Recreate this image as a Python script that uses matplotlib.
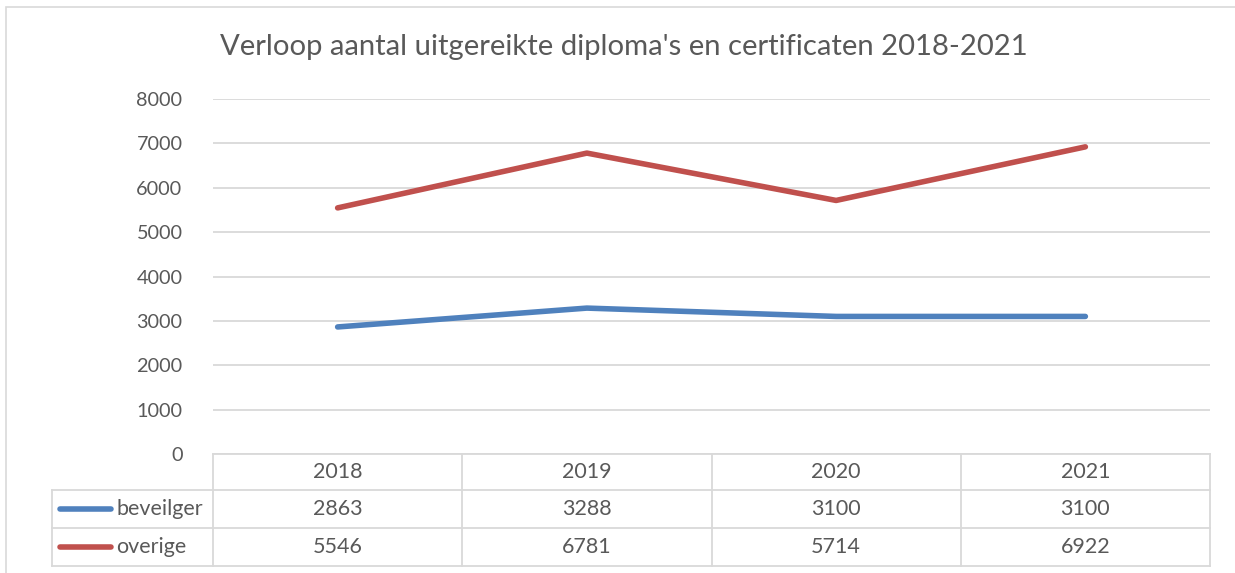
import matplotlib
matplotlib.use("Agg")
import matplotlib.pyplot as plt
from matplotlib.lines import Line2D
from matplotlib.patches import Rectangle

title = "Verloop aantal uitgereikte diploma's en certificaten 2018-2021"
years = ["2018", "2019", "2020", "2021"]
series_names = ["beveilger", "overige"]
beveilger = [2863, 3288, 3100, 3100]
overige = [5546, 6781, 5714, 6922]
yticks = [0, 1000, 2000, 3000, 4000, 5000, 6000, 7000, 8000]

colors = ["#4F81BD", "#C0504D"]
text_color = "#595959"
grid_color = "#D9D9D9"
font = ["Lato", "DejaVu Sans"]

W, H = 1235, 573
fig = plt.figure(figsize=(W / 100, H / 100), dpi=100)
plt.rcParams['font.family'] = font

def fx(px):
    return px / W

def fy(py):
    return 1 - py / H

# outer chart border
fig.patches.append(Rectangle((fx(6), fy(580)), fx(1240) - fx(6), fy(7) - fy(580),
                             transform=fig.transFigure, fill=False,
                             edgecolor=grid_color, linewidth=1.2))

left, right, top, bottom = 213, 1210, 99, 454
ax = fig.add_axes([fx(left), fy(bottom), fx(right) - fx(left), fy(top) - fy(bottom)])
x = [i + 0.5 for i in range(len(years))]
for vals, c in zip([beveilger, overige], colors):
    ax.plot(x, vals, color=c, linewidth=4.0, solid_capstyle="round", solid_joinstyle="round")

ax.set_xlim(0, len(years))
ax.set_ylim(0, 8000)
ax.set_yticks(yticks)
ax.set_yticklabels([str(v) for v in yticks])
ax.tick_params(axis="y", length=0, pad=22, labelsize=14.3, labelcolor=text_color)
ax.tick_params(axis="x", bottom=False, labelbottom=False)
ax.grid(axis="y", color=grid_color, linewidth=1.3)
ax.set_axisbelow(True)
for s in ax.spines.values():
    s.set_visible(False)

fig.text(fx(624), fy(47), title, ha="center", va="center", fontsize=21.1, color=text_color)

# data table
col_edges = [left + i * (right - left) / len(years) for i in range(len(years) + 1)]
row_edges = [454, 490, 528, 566]
legend_left = 52
lw = 1.3
tsize = 15.5

def hline(y, x0, x1):
    fig.add_artist(Line2D([fx(x0), fx(x1)], [fy(y), fy(y)], color=grid_color, linewidth=lw,
                          transform=fig.transFigure))

def vline(xp, y0, y1):
    fig.add_artist(Line2D([fx(xp), fx(xp)], [fy(y0), fy(y1)], color=grid_color, linewidth=lw,
                          transform=fig.transFigure))

hline(row_edges[0], left, right)
for y in row_edges[1:]:
    hline(y, legend_left, right)
for i, xp in enumerate(col_edges):
    vline(xp, row_edges[0], row_edges[-1])
vline(legend_left, row_edges[1], row_edges[-1])

for i, yr in enumerate(years):
    cx = (col_edges[i] + col_edges[i + 1]) / 2
    fig.text(fx(cx), fy((row_edges[0] + row_edges[1]) / 2), yr, ha="center", va="center",
             fontsize=tsize, color=text_color)

for r, (name, vals, c) in enumerate(zip(series_names, [beveilger, overige], colors)):
    cy = (row_edges[r + 1] + row_edges[r + 2]) / 2
    fig.add_artist(Line2D([fx(60), fx(111)], [fy(cy), fy(cy)], color=c, linewidth=4.0,
                          solid_capstyle="round", transform=fig.transFigure))
    fig.text(fx(116), fy(cy), name, ha="left", va="center", fontsize=tsize, color=text_color)
    for i, v in enumerate(vals):
        cx = (col_edges[i] + col_edges[i + 1]) / 2
        fig.text(fx(cx), fy(cy), str(v), ha="center", va="center", fontsize=tsize, color=text_color)

fig.savefig("out.png", dpi=100, facecolor="white")
